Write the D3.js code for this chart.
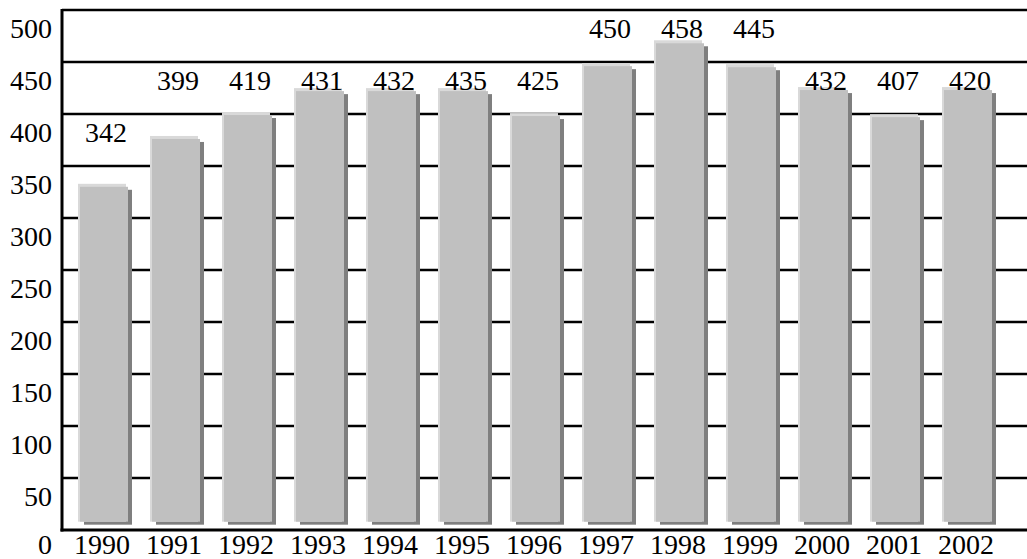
<!DOCTYPE html>
<html>
<head>
<meta charset="utf-8">
<script src="https://cdn.jsdelivr.net/npm/d3@7/dist/d3.min.js"></script>
<style>
  html, body { margin: 0; padding: 0; background: #fff; }
  svg { display: block; }
  text { font-family: "Liberation Serif", "Times New Roman", serif; fill: #000; }
</style>
</head>
<body>
<svg id="chart" width="1027" height="559"></svg>
<script>
const years = ["1990","1991","1992","1993","1994","1995","1996","1997","1998","1999","2000","2001","2002"];
const labelValues = [342, 399, 419, 431, 432, 435, 425, 450, 458, 445, 432, 407, 420];
const barValues = [330, 376, 399, 422, 422, 422, 398, 446, 468, 445, 423, 397, 423];
const barBase = 8;
const yTicks = [0, 50, 100, 150, 200, 250, 300, 350, 400, 450, 500];

(function () {
const mLeft = 62, mTop = 10, mBottom = 530, mRight = 1027;
const fs = 28;
const svg = d3.select("#chart");

const y = d3.scaleLinear().domain([0, 500]).range([mBottom, mTop]);
const x = d3.scaleBand().domain(years).range([68, 1004]).paddingInner(1/3).paddingOuter(1/6);

// gridlines
svg.append("g").selectAll("line").data(yTicks.filter(d => d > 0)).join("line")
  .attr("x1", mLeft).attr("x2", mRight)
  .attr("y1", d => y(d)).attr("y2", d => y(d))
  .attr("stroke", "#000").attr("stroke-width", 2.5);

// bars
const bars = svg.append("g").selectAll("g").data(years).join("g");
bars.append("rect")
  .attr("x", d => x(d) + 4).attr("y", (d, i) => y(barValues[i]) + 3)
  .attr("width", x.bandwidth()).attr("height", (d, i) => y(barBase) - y(barValues[i]))
  .attr("fill", "#7f7f7f");
bars.append("rect")
  .attr("x", d => x(d) - 2).attr("y", (d, i) => y(barValues[i]) - 3)
  .attr("width", x.bandwidth()).attr("height", (d, i) => y(barBase) - y(barValues[i]) + 3)
  .attr("fill", "#d9d9d9");
bars.append("rect")
  .attr("x", d => x(d)).attr("y", (d, i) => y(barValues[i]))
  .attr("width", x.bandwidth()).attr("height", (d, i) => y(barBase) - y(barValues[i]))
  .attr("fill", "#c0c0c0");

// axis lines
svg.append("line").attr("x1", mLeft).attr("x2", mLeft).attr("y1", y(500) - 1).attr("y2", y(0) + 1.5)
  .attr("stroke", "#000").attr("stroke-width", 3);
svg.append("line").attr("x1", mLeft - 1.5).attr("x2", mRight).attr("y1", y(0)).attr("y2", y(0))
  .attr("stroke", "#000").attr("stroke-width", 3);

// y tick labels
svg.append("g").selectAll("text").data(yTicks).join("text")
  .attr("x", 52).attr("y", d => Math.min(y(d) + 28, 554))
  .attr("text-anchor", "end").attr("font-size", fs)
  .text(d => d);

// x labels
svg.append("g").selectAll("text").data(years).join("text")
  .attr("x", d => x(d) + x.bandwidth() / 2 - 2).attr("y", 554)
  .attr("text-anchor", "middle").attr("font-size", fs)
  .text(d => d);

// value labels, placed at the axis label row above each bar
const tier = v => 50 * Math.round(v / 50) + 50;
svg.append("g").selectAll("text").data(years).join("text")
  .attr("x", d => x(d) + x.bandwidth() / 2 + 2)
  .attr("y", (d, i) => y(tier(barValues[i])) + 28)
  .attr("text-anchor", "middle").attr("font-size", fs)
  .text((d, i) => labelValues[i]);
})();
</script>
</body>
</html>
